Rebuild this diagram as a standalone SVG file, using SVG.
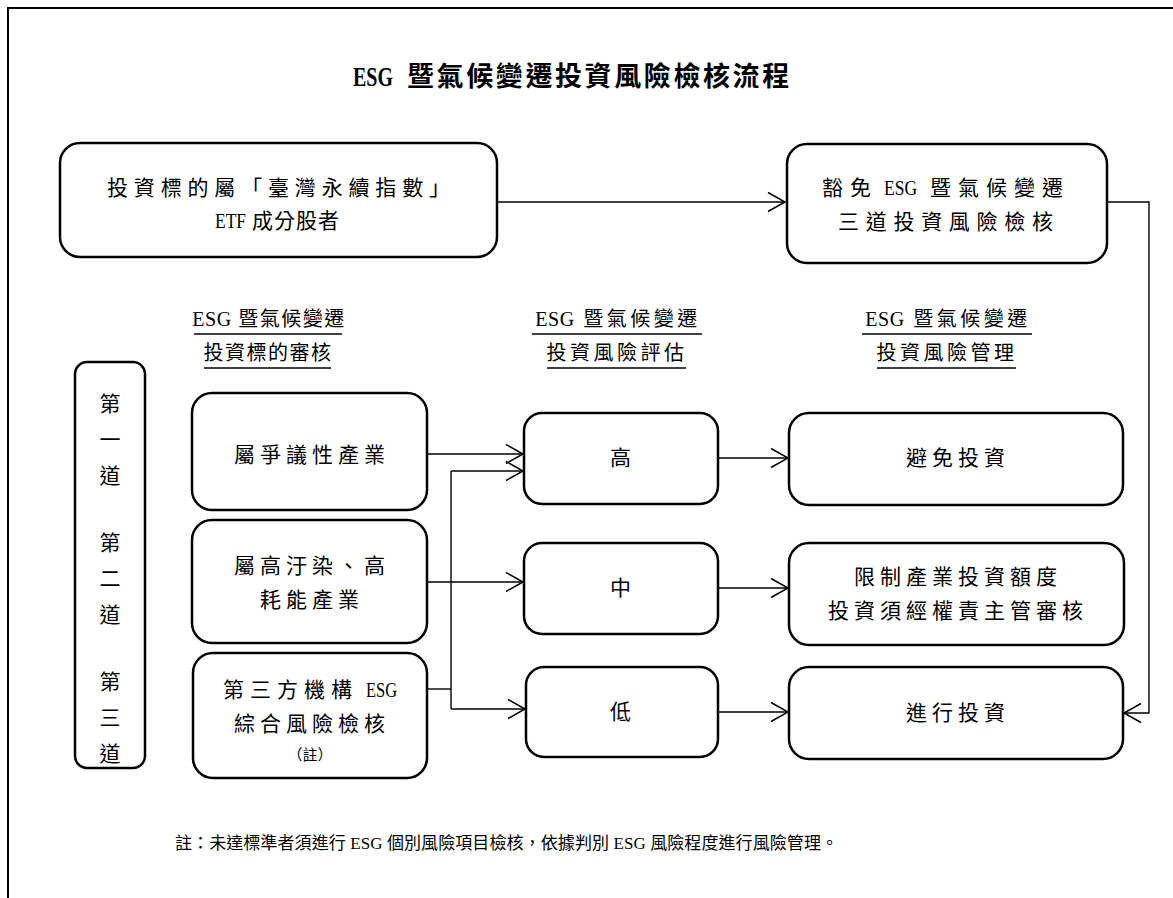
<svg xmlns="http://www.w3.org/2000/svg" width="1173" height="898" viewBox="0 0 1173 898">
<style>
text{font-family:"Liberation Serif","Noto Sans CJK TC",serif;fill:#000;dominant-baseline:central}
.t{font-size:21px;letter-spacing:5px;text-anchor:middle}
.h{font-size:20px;letter-spacing:3.5px;text-anchor:middle}
.h1{font-size:20px;letter-spacing:1.5px;text-anchor:middle}
.v{font-size:21px;text-anchor:middle}
.box{fill:#fff;stroke:#000;stroke-width:2.5}
.ln{fill:none;stroke:#000;stroke-width:1.4}
.ul{stroke:#000;stroke-width:1.4}
.e{letter-spacing:0.5px}
</style>
<defs>
<marker id="arr" markerUnits="userSpaceOnUse" markerWidth="22" markerHeight="24" viewBox="-2 -12 22 24" refX="17" refY="0" orient="auto">
<path d="M0,-9.5 L17,0 L0,9.5" fill="none" stroke="#000" stroke-width="1.5"/>
</marker>
</defs>
<rect width="1173" height="898" fill="#fff"/>
<g id="frame">
<path d="M8,898 V8 H1173" fill="none" stroke="#000" stroke-width="2"/>
</g>
<g id="title">
<text y="77" font-size="27" font-weight="bold"><tspan x="353" textLength="40" lengthAdjust="spacingAndGlyphs">ESG</tspan><tspan x="407" letter-spacing="2.6">暨氣候變遷投資風險檢核流程</tspan></text>
</g>
<g id="connectors">
<path class="ln" d="M497,202 H785" marker-end="url(#arr)"/>
<path class="ln" d="M1107,202 H1149 V713 H1124" marker-end="url(#arr)"/>
<path class="ln" d="M427,454 H523" marker-end="url(#arr)"/>
<path class="ln" d="M427,582 H523" marker-end="url(#arr)"/>
<path class="ln" d="M427,689 H451"/>
<path class="ln" d="M451,471 V709"/>
<path class="ln" d="M451,471 H523" marker-end="url(#arr)"/>
<path class="ln" d="M451,709 H525" marker-end="url(#arr)"/>
<path class="ln" d="M718,458 H788" marker-end="url(#arr)"/>
<path class="ln" d="M718,588 H788" marker-end="url(#arr)"/>
<path class="ln" d="M718,712 H788" marker-end="url(#arr)"/>
</g>
<g id="node-etf">
<rect class="box" x="60" y="143" width="437" height="114" rx="20"/>
<text x="107" y="188" font-size="21" textLength="343" lengthAdjust="spacing">投資標的屬「臺灣永續指數」</text>
<text y="221" font-size="21"><tspan x="215" textLength="31" lengthAdjust="spacingAndGlyphs">ETF</tspan><tspan x="252" letter-spacing="1">成分股者</tspan></text>
</g>
<g id="node-exempt">
<rect class="box" x="787" y="144" width="320" height="119" rx="20"/>
<text y="188" font-size="21"><tspan x="822" letter-spacing="7">豁免</tspan><tspan x="884" textLength="33" lengthAdjust="spacingAndGlyphs">ESG</tspan><tspan x="930" letter-spacing="7">暨氣候變遷</tspan></text>
<text x="838" y="222" font-size="21" textLength="215" lengthAdjust="spacing">三道投資風險檢核</text>
</g>
<g id="header-1">
<text class="h1" x="269" y="319"><tspan class="e">ESG</tspan> 暨氣候變遷</text>
<text class="h1" x="268" y="353">投資標的審核</text>
<line class="ul" x1="194" y1="334" x2="342" y2="334"/>
<line class="ul" x1="204" y1="368" x2="331" y2="368"/>
</g>
<g id="header-2">
<text class="h" x="618" y="319"><tspan class="e">ESG</tspan> 暨氣候變遷</text>
<text class="h" x="617" y="353">投資風險評估</text>
<line class="ul" x1="532" y1="334" x2="702" y2="334"/>
<line class="ul" x1="547" y1="368" x2="686" y2="368"/>
</g>
<g id="header-3">
<text class="h" x="948" y="319"><tspan class="e">ESG</tspan> 暨氣候變遷</text>
<text class="h" x="947" y="353">投資風險管理</text>
<line class="ul" x1="862" y1="334" x2="1032" y2="334"/>
<line class="ul" x1="877" y1="368" x2="1016" y2="368"/>
</g>
<g id="node-lines">
<rect class="box" x="75" y="362" width="70" height="406" rx="12"/>
<text class="v" x="110" y="404">第</text>
<text class="v" x="110" y="440">一</text>
<text class="v" x="110" y="476">道</text>
<text class="v" x="110" y="543">第</text>
<text class="v" x="110" y="579">二</text>
<text class="v" x="110" y="615">道</text>
<text class="v" x="110" y="682">第</text>
<text class="v" x="110" y="718">三</text>
<text class="v" x="110" y="754">道</text>
</g>
<g id="node-controversial">
<rect class="box" x="192" y="393" width="235" height="117" rx="20"/>
<text class="t" x="312" y="455">屬爭議性產業</text>
</g>
<g id="node-pollution">
<rect class="box" x="192" y="520" width="235" height="123" rx="20"/>
<text class="t" x="312" y="566">屬高汙染、高</text>
<text class="t" x="312" y="600">耗能產業</text>
</g>
<g id="node-thirdparty">
<rect class="box" x="193" y="653" width="234" height="125" rx="20"/>
<text y="690" font-size="21"><tspan x="223" letter-spacing="6">第三方機構</tspan><tspan x="366" textLength="31" lengthAdjust="spacingAndGlyphs">ESG</tspan></text>
<text class="t" x="312" y="724">綜合風險檢核</text>
<text x="310" y="755" font-size="15" text-anchor="middle">（註）</text>
</g>
<g id="node-high">
<rect class="box" x="524" y="413" width="194" height="91" rx="18"/>
<text class="t" x="623" y="458">高</text>
</g>
<g id="node-mid">
<rect class="box" x="524" y="543" width="194" height="91" rx="18"/>
<text class="t" x="623" y="588">中</text>
</g>
<g id="node-low">
<rect class="box" x="526" y="667" width="192" height="90" rx="18"/>
<text class="t" x="623" y="712">低</text>
</g>
<g id="node-avoid">
<rect class="box" x="789" y="413" width="334" height="92" rx="20"/>
<text class="t" x="958" y="458">避免投資</text>
</g>
<g id="node-limit">
<rect class="box" x="789" y="543" width="335" height="102" rx="20"/>
<text class="t" x="958" y="577">限制產業投資額度</text>
<text class="t" x="958" y="611">投資須經權責主管審核</text>
</g>
<g id="node-invest">
<rect class="box" x="789" y="667" width="334" height="92" rx="20"/>
<text class="t" x="958" y="713">進行投資</text>
</g>
<g id="footnote">
<text x="175" y="843" font-size="17" textLength="663" lengthAdjust="spacing">註：未達標準者須進行 ESG 個別風險項目檢核，依據判別 ESG 風險程度進行風險管理。</text>
</g>
</svg>
